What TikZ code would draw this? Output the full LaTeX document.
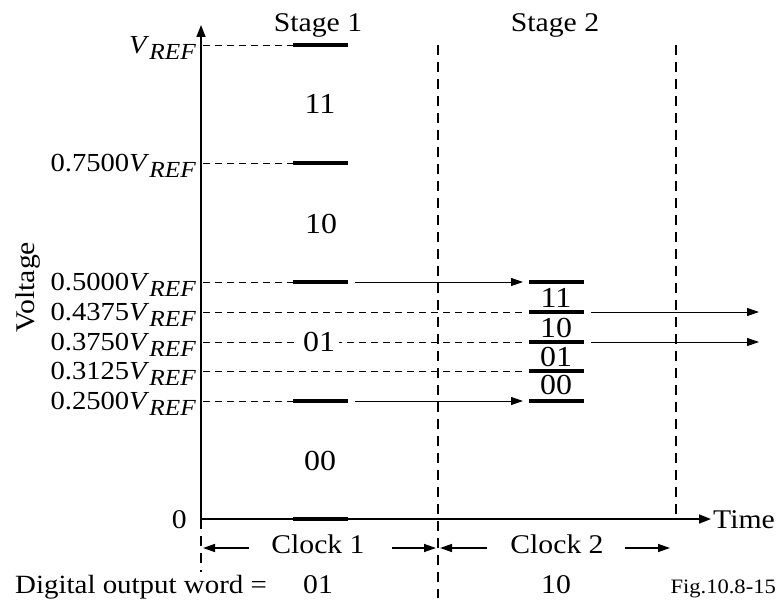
\documentclass[tikz,border=0pt]{standalone}
\usepackage{fontspec}
\setmainfont[FakeStretch=1.1]{Liberation Serif}
\usetikzlibrary{arrows.meta}
\newcommand\myvref{\textit{V}\raisebox{-6pt}{\fontsize{23}{23}\selectfont\itshape REF}}
\tikzset{
  axisln/.style={line width=1.6pt,-{Triangle[length=12pt,width=9pt]}},
  lvl/.style={line width=0.9pt,dash pattern=on 7pt off 5pt},
  bar/.style={line width=3.2pt},
  vdash/.style={line width=1.8pt,dash pattern=on 10pt off 7pt},
  arr/.style={line width=1pt,-{Triangle[length=12pt,width=8pt]}},
  clk/.style={line width=1.4pt,-{Triangle[length=12pt,width=8pt]}},
  txt/.style={inner sep=0pt,font=\fontsize{27}{30}\selectfont},
  num/.style={inner sep=0pt,font=\fontsize{29}{31}\selectfont},
  ylab/.style={inner sep=0pt,anchor=base east,font=\fontsize{26}{28}\selectfont},
}
\begin{document}
\begin{tikzpicture}[x=1pt,y=-1pt]
\useasboundingbox (0,0) rectangle (778,602);
% axes
\coordinate (O) at (201,519);
\coordinate (ytop) at (201,25);
\coordinate (xend) at (711,519);
\draw[axisln] (O) -- (ytop);
\draw[axisln] (O) -- (xend);
\node[txt,anchor=base west] (time) at (713,528) {Time};
\node[txt,anchor=base east] (zero) at (187,528) {0};
\node[txt,rotate=90] (volt) at (28,287) {Voltage};
% level labels
\node[ylab] (l1) at (196,53) {\myvref};
\node[ylab] (l2) at (196,171) {0.7500\myvref};
\node[ylab] (l3) at (196,290) {0.5000\myvref};
\node[ylab] (l4) at (196,320) {0.4375\myvref};
\node[ylab] (l5) at (196,350) {0.3750\myvref};
\node[ylab] (l6) at (196,379) {0.3125\myvref};
\node[ylab] (l7) at (196,409) {0.2500\myvref};
% level coordinates
\foreach \n/\y in {a/45,b/163,c/282,d/312,e/342,f/371,g/401}{
  \coordinate (ax\n) at (203,\y);
}
\foreach \n/\y in {a/45,b/163,c/282,g/401}{
  \coordinate (s1l\n) at (293,\y);
  \coordinate (s1r\n) at (348,\y);
  \draw[lvl] (ax\n) -- (s1l\n);
  \draw[bar] (s1l\n) -- (s1r\n);
}
\coordinate (s1lz) at (293,519);
\coordinate (s1rz) at (348,519);
\draw[bar] (s1lz) -- (s1rz);
\foreach \n/\y in {c/282,d/312,e/342,f/371,g/401}{
  \coordinate (s2l\n) at (529,\y);
  \coordinate (s2r\n) at (584,\y);
  \draw[bar] (s2l\n) -- (s2r\n);
}
\foreach \n in {d,e,f}{
  \draw[lvl] (ax\n) -- ([xshift=-3pt]s2l\n);
}
% stage 1 region labels
\node[num,anchor=base] (r11) at (320,113) {11};
\node[num,anchor=base] (r10) at (321,233) {10};
\node[num,anchor=base,fill=white,inner xsep=4pt] (r01) at (319,351) {01};
\node[num,anchor=base] (r00) at (320,470) {00};
% stage 2 labels
\node[num,anchor=base] (q11) at (556,307) {11};
\node[num,anchor=base] (q10) at (556,337) {10};
\node[num,anchor=base] (q01) at (556,366) {01};
\node[num,anchor=base] (q00) at (556,394) {00};
% arrows stage1 -> stage2
\coordinate (a1s) at (355,282);
\coordinate (a1e) at (523,282);
\coordinate (a2s) at (355,401);
\coordinate (a2e) at (523,401);
\draw[arr] (a1s) -- (a1e);
\draw[arr] (a2s) -- (a2e);
\coordinate (b1s) at (591,312);
\coordinate (b1e) at (759,312);
\coordinate (b2s) at (591,342);
\coordinate (b2e) at (759,342);
\draw[arr] (b1s) -- (b1e);
\draw[arr] (b2s) -- (b2e);
% vertical dashed lines
\coordinate (v1t) at (438,45);
\coordinate (v1b) at (438,598);
\coordinate (v2t) at (676,45);
\coordinate (v2b) at (676,519);
\coordinate (v0b) at (201,572);
\draw[vdash] (v1t) -- (v1b);
\draw[vdash] (v2t) -- (v2b);
\draw[vdash] (O) -- (v0b);
% stage titles
\node[txt,anchor=base] (st1) at (318,32) {Stage 1};
\node[txt,anchor=base] (st2) at (555,32) {Stage 2};
% clock row
\node[txt,anchor=base] (c1) at (318,553) {Clock 1};
\node[txt,anchor=base] (c2) at (557,553) {Clock 2};
\coordinate (c1a) at (249,548);
\coordinate (c1at) at (203,548);
\coordinate (c1b) at (392,548);
\coordinate (c1bt) at (436,548);
\coordinate (c2a) at (487,548);
\coordinate (c2at) at (440,548);
\coordinate (c2b) at (625,548);
\coordinate (c2bt) at (670,548);
\draw[clk] (c1a) -- (c1at);
\draw[clk] (c1b) -- (c1bt);
\draw[clk] (c2a) -- (c2at);
\draw[clk] (c2b) -- (c2bt);
% bottom row
\node[inner sep=0pt,anchor=base west,fill=white,inner ysep=2pt,font=\fontsize{26.3}{30}\selectfont] (dow) at (15,593) {Digital output word =};
\node[txt,anchor=base] (w1) at (318,593) {01};
\node[txt,anchor=base] (w2) at (556,593) {10};
\node[inner sep=0pt,anchor=base east,font=\fontsize{20.5}{22}\selectfont] (fig) at (776,593) {Fig.10.8-15};
\end{tikzpicture}
\end{document}
